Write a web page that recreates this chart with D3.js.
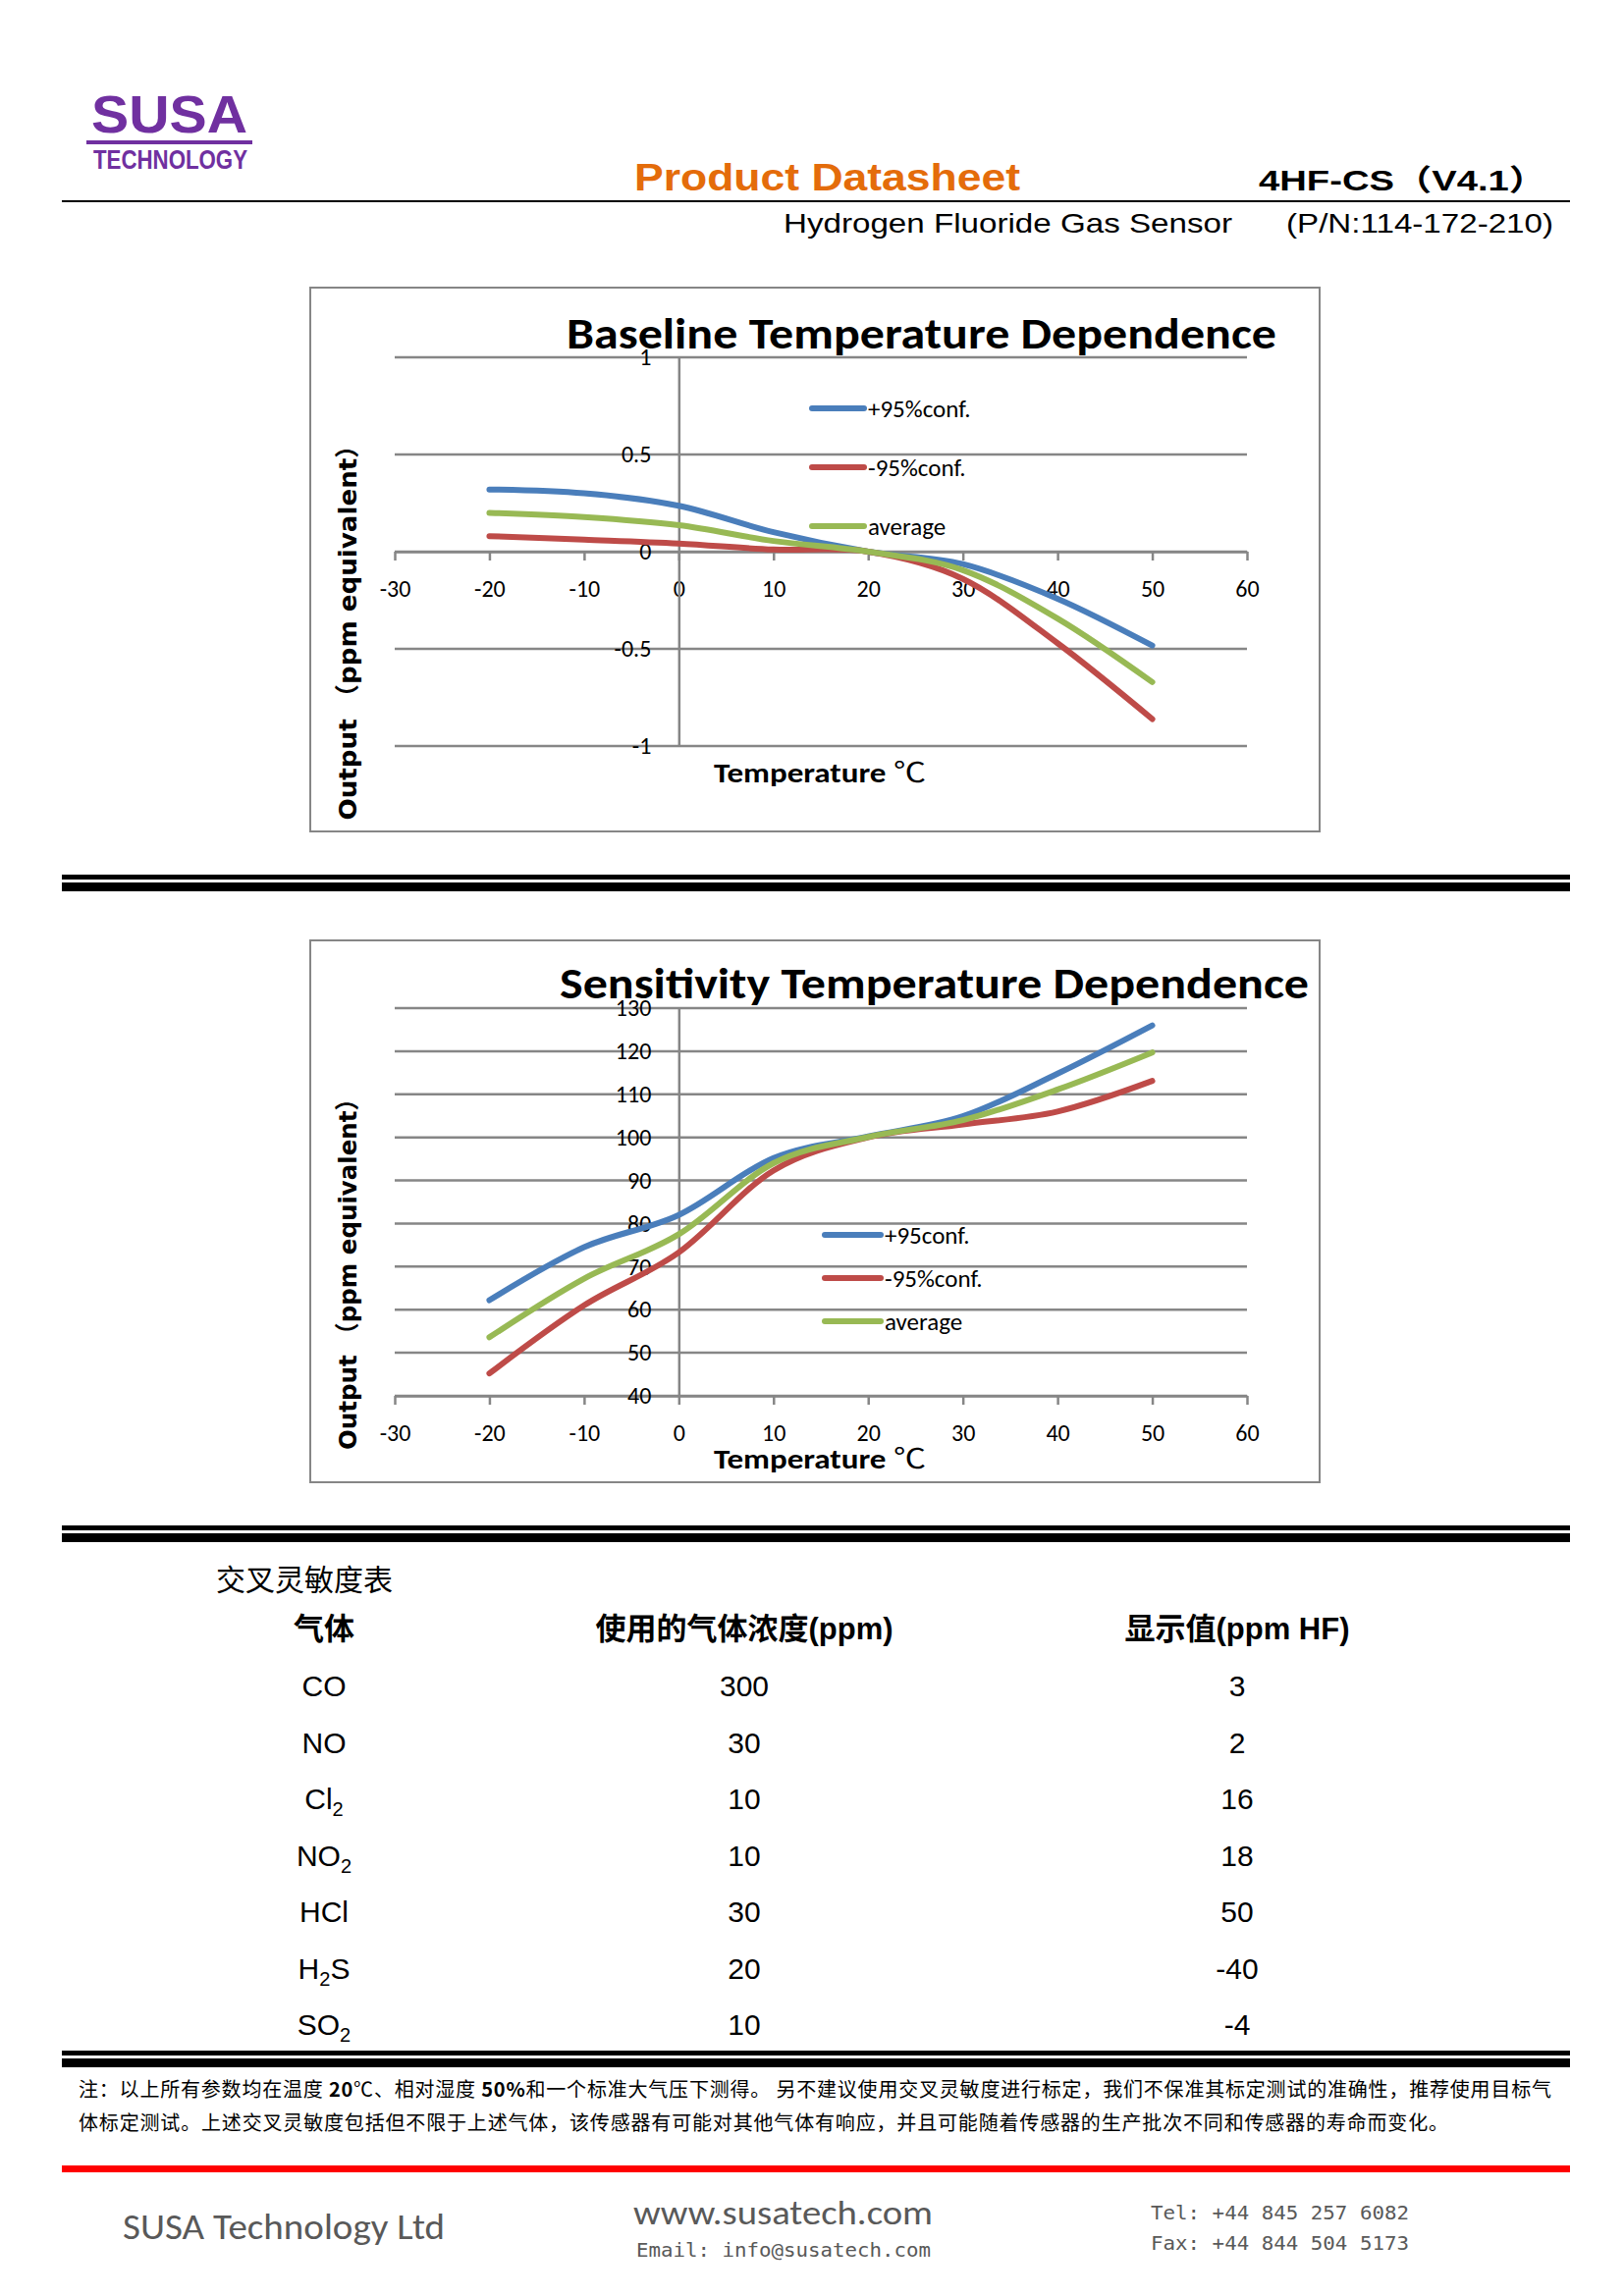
<!DOCTYPE html>
<html>
<head>
<meta charset="utf-8">
<script src="https://cdn.jsdelivr.net/npm/d3@7"></script>
<style>
  body { margin: 0; background: #fff; }
  svg { display: block; }
</style>
</head>
<body>
<script>
// --- data ---
var temps = [-20, -10, 0, 10, 20, 30, 40, 50];
var xTicks = [-30, -20, -10, 0, 10, 20, 30, 40, 50, 60];

var baseUpper = [0.32, 0.30, 0.236, 0.10, 0, -0.064, -0.242, -0.483];
var baseLower = [0.08, 0.062, 0.042, 0.011, 0, -0.14, -0.471, -0.861];
var baseAvg   = [0.20, 0.178, 0.136, 0.055, 0, -0.095, -0.344, -0.671];
var baseTicks = [-1, -0.5, 0, 0.5, 1];

var sensUpper = [62.2, 74.5, 82.0, 95.2, 100.2, 104.9, 114.8, 126.0];
var sensLower = [45.2, 61.0, 73.3, 92.3, 100.0, 103.0, 106.0, 113.1];
var sensAvg   = [53.6, 67.2, 77.5, 94.0, 100.1, 104.0, 111.1, 119.7];
var sensTicks = [40, 50, 60, 70, 80, 90, 100, 110, 120, 130];

var baseLegend = ["+95%conf.", "-95%conf.", "average"];
var sensLegend = ["+95conf.", "-95%conf.", "average"];

var gases = ["CO", "NO", "Cl2", "NO2", "HCl", "H2S", "SO2"];
var concs = [300, 30, 10, 10, 30, 20, 10];
var readings = [3, 2, 16, 18, 50, -40, -4];
var tableHeads = ["气体", "使用的气体浓度(ppm)", "显示值(ppm HF)"];

var colors = ["#4A7EBB", "#BE4B48", "#98B954"];

var chartFont = "Carlito, Calibri, Lato, 'Open Sans', sans-serif";
var arial = "'Liberation Sans', Arial, 'Noto Sans CJK SC', sans-serif";
var cjk = "'Noto Sans CJK SC', 'Liberation Sans', sans-serif";
var grid = "#868686";

var svg = d3.select("body").append("svg")
    .attr("width", 1654)
    .attr("height", 2339);

function txt(x, y, s, o) {
  o = o || {};
  var t = svg.append("text")
      .attr("x", x).attr("y", y)
      .attr("font-family", o.font || arial)
      .attr("font-size", o.size || 20)
      .attr("font-weight", o.weight || "normal")
      .attr("fill", o.fill || "#000")
      .attr("text-anchor", o.anchor || "start")
      .text(s);
  if (o.len) t.attr("textLength", o.len).attr("lengthAdjust", o.adjust || "spacingAndGlyphs");
  return t;
}

function rule(y, h, color) {
  svg.append("rect").attr("x", 63).attr("y", y).attr("width", 1536).attr("height", h)
      .attr("fill", color || "#000");
}

// --- header ---
txt(93, 135, "SUSA", {size: 53, weight: "bold", fill: "#7030A0", len: 159});
svg.append("rect").attr("x", 88).attr("y", 143).attr("width", 169).attr("height", 4).attr("fill", "#7030A0");
txt(95, 172, "TECHNOLOGY", {size: 28, weight: "bold", fill: "#7030A0", len: 157});

txt(646, 194, "Product Datasheet", {size: 39, weight: "bold", fill: "#E46C0A", len: 393});
txt(1282, 194, "4HF-CS（V4.1）", {size: 30, weight: "bold", len: 293});
svg.append("rect").attr("x", 63).attr("y", 204).attr("width", 1536).attr("height", 2).attr("fill", "#000");
txt(798, 237, "Hydrogen Fluoride Gas Sensor", {size: 28, len: 457});
txt(1310, 237, "(P/N:114-172-210)", {size: 28, len: 272});

// --- charts ---
function drawChart(c) {
  svg.append("rect")
      .attr("x", c.box[0]).attr("y", c.box[1])
      .attr("width", c.box[2]).attr("height", c.box[3])
      .attr("fill", "#fff").attr("stroke", grid).attr("stroke-width", 2);

  var xs = d3.scaleLinear().domain([-30, 60]).range([402, 1270]);
  var ys = d3.scaleLinear().domain(c.yDomain).range(c.yRange);
  var g = svg.append("g");

  // horizontal gridlines
  g.selectAll(".grid").data(c.yTicks).enter().append("line")
      .attr("x1", xs(-30)).attr("x2", xs(60))
      .attr("y1", function(d) { return ys(d); })
      .attr("y2", function(d) { return ys(d); })
      .attr("stroke", grid).attr("stroke-width", 2.5);

  // x axis
  var xa = g.append("g")
      .attr("transform", "translate(0," + ys(c.xAt) + ")")
      .call(d3.axisBottom(xs).tickValues(xTicks).tickSize(9).tickSizeOuter(0).tickPadding(20)
        .tickFormat(function(d) { return String(d); }));

  // y axis
  var ya = g.append("g")
      .attr("transform", "translate(" + xs(0) + ",0)")
      .call(d3.axisLeft(ys).tickValues(c.yTicks).tickSize(0).tickPadding(28)
        .tickFormat(function(d) { return String(d); }));

  [xa, ya].forEach(function(a) {
    a.selectAll("path, line").attr("stroke", grid).attr("stroke-width", 2.5);
    a.selectAll("text").attr("font-family", chartFont).attr("font-size", 24).attr("fill", "#000");
  });

  var line = d3.line()
      .x(function(d, i) { return xs(temps[i]); })
      .y(function(d) { return ys(d); })
      .curve(d3.curveCardinal.tension(0));

  c.series.forEach(function(s, i) {
    g.append("path")
        .attr("d", line(s))
        .attr("fill", "none")
        .attr("stroke", colors[i])
        .attr("stroke-width", 6)
        .attr("stroke-linecap", "round")
        .attr("stroke-linejoin", "round");
  });

  // legend
  c.legend.forEach(function(name, i) {
    var y = c.legY[i];
    g.append("line")
        .attr("x1", c.legX[0]).attr("x2", c.legX[1]).attr("y1", y).attr("y2", y)
        .attr("stroke", colors[i]).attr("stroke-width", 6).attr("stroke-linecap", "round");
    g.append("text")
        .attr("x", c.legX[1] + 4).attr("y", y).attr("dy", "0.35em")
        .attr("font-family", chartFont).attr("font-size", 25)
        .text(name);
  });

  // titles
  txt(c.title[1], c.title[2], c.title[0], {font: chartFont, size: 44, weight: "bold", len: c.title[3]});
  var xt = txt(727, c.xTitleY, "", {font: chartFont, size: 28, weight: "bold", len: 216});
  xt.append("tspan").text("Temperature ");
  xt.append("tspan").attr("font-family", cjk).attr("font-weight", "normal").text("℃");

  svg.append("text")
      .attr("transform", "translate(363," + c.yTitle[0] + ") rotate(-90)")
      .attr("text-anchor", "middle")
      .attr("font-family", "'DejaVu Sans', 'Noto Sans CJK SC', sans-serif")
      .attr("font-size", 25).attr("font-weight", "bold")
      .attr("textLength", c.yTitle[1]).attr("lengthAdjust", "spacingAndGlyphs")
      .text("Output （ppm equivalent）");
}

drawChart({
  box: [316, 293, 1028, 554],
  yDomain: [-1, 1], yRange: [760, 364], yTicks: baseTicks, xAt: 0,
  series: [baseUpper, baseLower, baseAvg],
  legend: baseLegend, legX: [827, 880], legY: [416, 476, 536],
  title: ["Baseline Temperature Dependence", 577, 355, 723],
  xTitleY: 797,
  yTitle: [638, 395]
});

drawChart({
  box: [316, 958, 1028, 552],
  yDomain: [40, 130], yRange: [1422, 1027], yTicks: sensTicks, xAt: 40,
  series: [sensUpper, sensLower, sensAvg],
  legend: sensLegend, legX: [840, 897], legY: [1258, 1302, 1346],
  title: ["Sensitivity Temperature Dependence", 570, 1017, 763],
  xTitleY: 1496,
  yTitle: [1292, 370]
});

// separators
rule(891, 5); rule(899, 9);
rule(1554, 5); rule(1562, 9);

// --- cross sensitivity table ---
txt(220, 1620, "交叉灵敏度表", {font: cjk, size: 30});
var colX = [330, 758, 1260];
tableHeads.forEach(function(h, i) {
  txt(colX[i], 1670, h, {size: 31, weight: "bold", anchor: "middle"});
});

var rowY = d3.scaleLinear().domain([0, 6]).range([1728, 2073]);
gases.forEach(function(gname, i) {
  var t = svg.append("text")
      .attr("x", colX[0]).attr("y", rowY(i))
      .attr("font-family", arial).attr("font-size", 30)
      .attr("text-anchor", "middle");
  var lowered = false;
  gname.split(/(\d)/).filter(function(p) { return p.length; }).forEach(function(p) {
    if (/\d/.test(p)) {
      t.append("tspan").attr("font-size", 20).attr("dy", 7).text(p);
      lowered = true;
    } else {
      var sp = t.append("tspan").text(p);
      if (lowered) { sp.attr("dy", -7); lowered = false; }
    }
  });
  txt(colX[1], rowY(i), String(concs[i]), {size: 30, anchor: "middle"});
  txt(colX[2], rowY(i), String(readings[i]), {size: 30, anchor: "middle"});
});

rule(2089, 5); rule(2097, 9);

// note
var n1 = svg.append("text").attr("x", 80).attr("y", 2136)
    .attr("font-family", cjk).attr("font-size", 20)
    .attr("textLength", 1500).attr("lengthAdjust", "spacing");
n1.append("tspan").text("注：以上所有参数均在温度 ");
n1.append("tspan").attr("font-weight", "bold").text("20");
n1.append("tspan").text("℃、相对湿度 ");
n1.append("tspan").attr("font-weight", "bold").text("50%");
n1.append("tspan").text("和一个标准大气压下测得。 另不建议使用交叉灵敏度进行标定，我们不保准其标定测试的准确性，推荐使用目标气");
txt(80, 2170, "体标定测试。上述交叉灵敏度包括但不限于上述气体，该传感器有可能对其他气体有响应，并且可能随着传感器的生产批次不同和传感器的寿命而变化。",
    {font: cjk, size: 20, len: 1395, adjust: "spacing"});

rule(2206, 7, "#FF0000");

// --- footer ---
var foot = "#595959";
txt(125, 2281, "SUSA Technology Ltd", {font: chartFont, size: 36, fill: foot, len: 328});
txt(645, 2266, "www.susatech.com", {font: chartFont, size: 34, fill: foot, len: 305});
txt(648, 2299, "Email: info@susatech.com", {font: "'DejaVu Sans Mono', monospace", size: 19, fill: foot, len: 300});
txt(1172, 2261, "Tel: +44 845 257 6082", {font: "'DejaVu Sans Mono', monospace", size: 20, fill: foot, len: 263});
txt(1172, 2292, "Fax: +44 844 504 5173", {font: "'DejaVu Sans Mono', monospace", size: 20, fill: foot, len: 263});
</script>
</body>
</html>
